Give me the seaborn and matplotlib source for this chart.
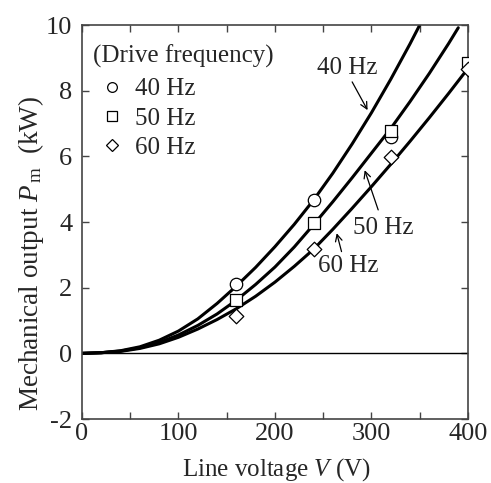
import numpy as np
import pandas as pd
import seaborn as sns
import matplotlib.pyplot as plt
from matplotlib.lines import Line2D

# ---- data ----
freqs = ["40 Hz", "50 Hz", "60 Hz"]
legend_title = "(Drive frequency)"

# fitted curves
curve_v_40 = [0, 20, 40, 60, 80, 100, 120, 140, 160, 180, 200, 220, 240, 260, 280, 300, 320, 340, 350]
curve_p_40 = [0, 0.02, 0.08, 0.2, 0.4, 0.68, 1.05, 1.52, 2.05, 2.62, 3.25, 3.93, 4.67, 5.49, 6.38, 7.33, 8.35, 9.43, 10.0]
curve_v_50 = [0, 20, 40, 60, 80, 100, 120, 140, 160, 180, 200, 220, 240, 260, 280, 300, 320, 340, 360, 380, 390]
curve_p_50 = [0, 0.02, 0.07, 0.17, 0.33, 0.56, 0.85, 1.2, 1.62, 2.1, 2.63, 3.24, 3.92, 4.62, 5.35, 6.1, 6.85, 7.67, 8.53, 9.44, 9.92]
curve_v_60 = [0, 20, 40, 60, 80, 100, 120, 140, 160, 180, 200, 220, 240, 260, 280, 300, 320, 340, 360, 380, 400]
curve_p_60 = [0, 0.02, 0.06, 0.15, 0.29, 0.49, 0.74, 1.03, 1.36, 1.74, 2.17, 2.65, 3.17, 3.78, 4.42, 5.08, 5.76, 6.46, 7.18, 7.92, 8.68]

# measured points
meas_v_40 = [160, 240, 320]
meas_p_40 = [2.1, 4.67, 6.58]
meas_v_50 = [160, 240, 320, 400]
meas_p_50 = [1.62, 3.98, 6.78, 8.84]
meas_v_60 = [160, 240, 320, 400]
meas_p_60 = [1.15, 3.18, 5.97, 8.66]

xticks = [0, 100, 200, 300, 400]
xtick_labels = ["0", "100", "200", "300", "400"]
yticks = [-2, 0, 2, 4, 6, 8, 10]
ytick_labels = ["-2", "0", "2", "4", "6", "8", "10"]

curves = pd.concat([
    pd.DataFrame({"V": curve_v_40, "P": curve_p_40, "freq": "40 Hz"}),
    pd.DataFrame({"V": curve_v_50, "P": curve_p_50, "freq": "50 Hz"}),
    pd.DataFrame({"V": curve_v_60, "P": curve_p_60, "freq": "60 Hz"}),
], ignore_index=True)
meas = pd.concat([
    pd.DataFrame({"V": meas_v_40, "P": meas_p_40, "freq": "40 Hz"}),
    pd.DataFrame({"V": meas_v_50, "P": meas_p_50, "freq": "50 Hz"}),
    pd.DataFrame({"V": meas_v_60, "P": meas_p_60, "freq": "60 Hz"}),
], ignore_index=True)

# ---- style ----
sns.set_theme(style="ticks")
plt.rcParams["font.family"] = ["Liberation Serif", "DejaVu Serif"]
plt.rcParams["mathtext.fontset"] = "custom"
plt.rcParams["mathtext.rm"] = "Liberation Serif"
plt.rcParams["mathtext.it"] = "Liberation Serif:italic"

fig = plt.figure(figsize=(4.91, 4.83), dpi=100)
ax = fig.add_axes([0.167, 0.1325, 0.786, 0.8155])

ax.axhline(0, color="black", lw=1.0, zorder=1)

sns.lineplot(data=curves, x="V", y="P", hue="freq",
             palette={f: "black" for f in freqs}, estimator=None,
             linewidth=2.2, legend=False, ax=ax, zorder=2)

markers = {"40 Hz": "o", "50 Hz": "s", "60 Hz": "D"}
sizes = {"40 Hz": 80, "50 Hz": 80, "60 Hz": 55}
for f in freqs:
    sub = meas[meas["freq"] == f]
    sns.scatterplot(data=sub, x="V", y="P", marker=markers[f], s=sizes[f],
                    color="white", edgecolor="black", linewidth=0.9,
                    legend=False, ax=ax, zorder=3)

ax.set_xlim(0, 400)
ax.set_ylim(-2, 10)
ax.set_xticks(xticks)
ax.set_xticklabels(xtick_labels)
ax.set_xticks([50, 150, 250, 350], minor=True)
ax.set_yticks(yticks)
ax.set_yticklabels(ytick_labels)
ax.tick_params(axis="both", which="both", direction="in", top=True, right=True,
               length=5, width=1.0, color="#444444", labelsize=19)
ax.tick_params(axis="x", which="major", pad=3)
ax.tick_params(axis="y", which="major", pad=7)
for sp in ax.spines.values():
    sp.set_color("#444444")
    sp.set_linewidth(1.2)

ax.set_xlabel(r"Line voltage $\mathit{V}$ (V)", fontsize=18)
ax.set_ylabel(r"Mechanical output $\mathit{P}_{\,\mathrm{m}}$  (kW)", fontsize=19.5)
ax.xaxis.set_label_coords(0.504, -0.094)
ax.yaxis.set_label_coords(-0.092, 0.42)

# legend (title drawn as text, entries through legend)
ax.text(0.029, 0.92, legend_title, transform=ax.transAxes, fontsize=18,
        ha="left", va="center")
handles = [Line2D([], [], ls="none", marker=markers[f], markersize=ms,
                  markerfacecolor="white", markeredgecolor="black", markeredgewidth=0.9)
           for f, ms in zip(freqs, [7, 7, 6])]
leg = ax.legend(handles, freqs, loc="upper left",
                bbox_to_anchor=(0.033, 0.866), frameon=False, fontsize=18,
                handlelength=1.4, handletextpad=0.2,
                labelspacing=0.27, borderpad=0, borderaxespad=0)

# annotations
arrow = dict(arrowstyle="->", color="black", lw=0.9, shrinkA=0, shrinkB=0)
ax.text(275, 8.69, "40 Hz", fontsize=18, ha="center", va="center")
ax.annotate("", xy=(296, 7.41), xytext=(280, 8.27), arrowprops=arrow)
ax.text(312, 3.83, "50 Hz", fontsize=18, ha="center", va="center")
ax.annotate("", xy=(293, 5.58), xytext=(307, 4.37), arrowprops=arrow)
ax.text(276, 2.65, "60 Hz", fontsize=18, ha="center", va="center")
ax.annotate("", xy=(264, 3.66), xytext=(269, 3.10), arrowprops=arrow)

fig.savefig("out.png", dpi=100)
